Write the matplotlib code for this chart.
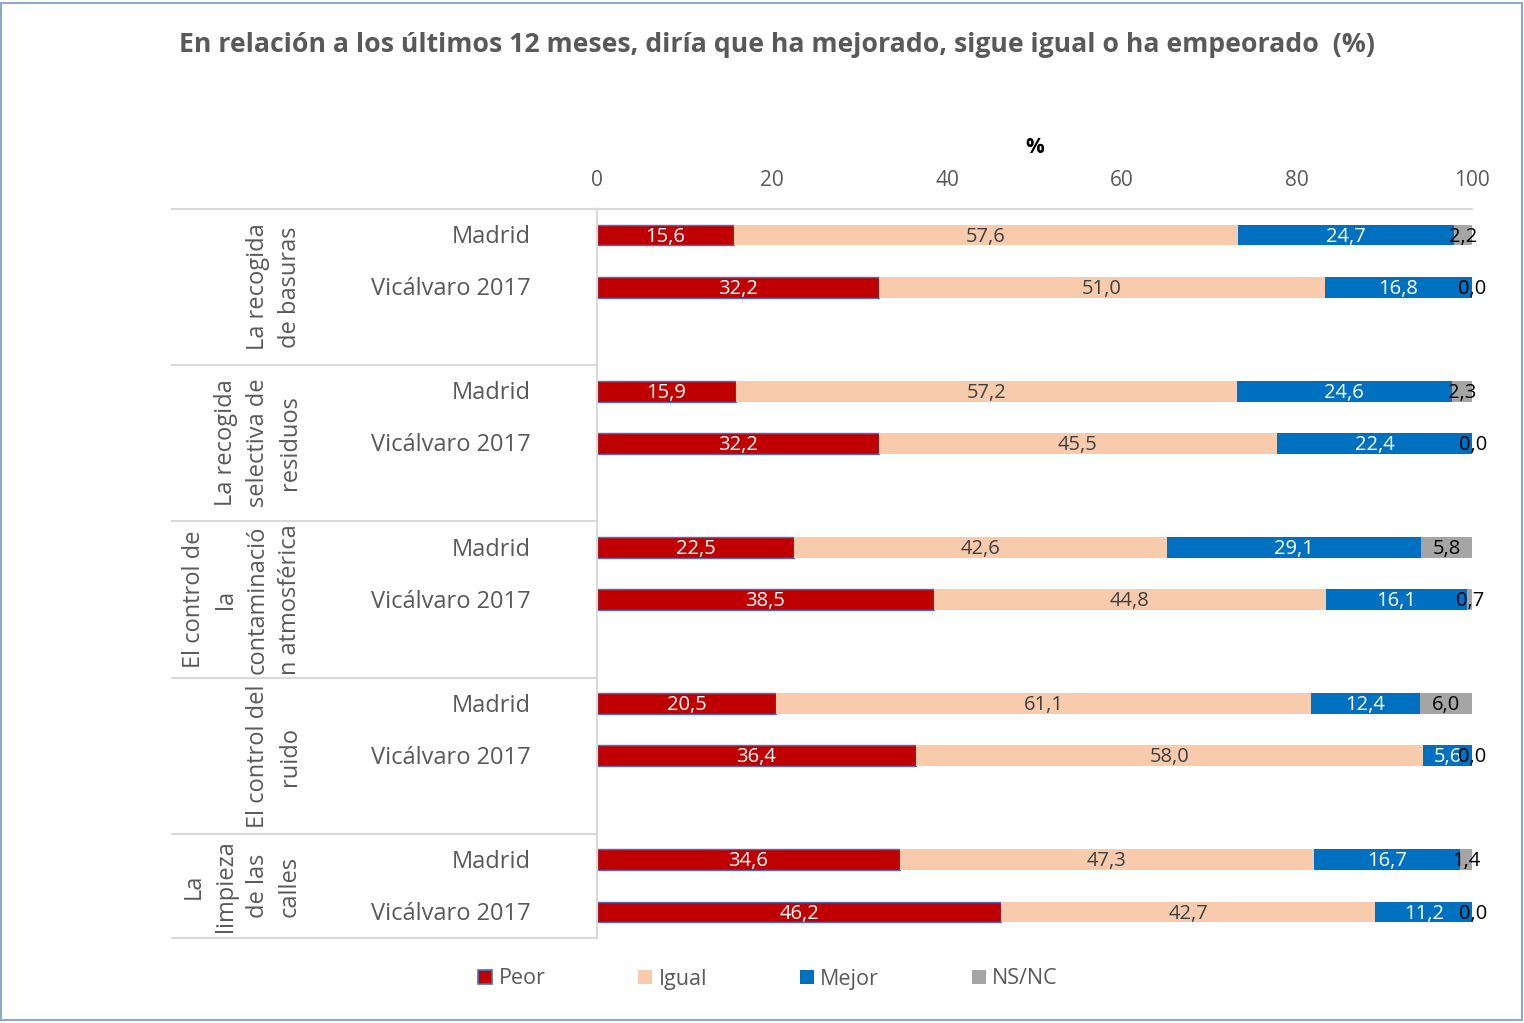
import matplotlib
matplotlib.use("Agg")
import matplotlib.pyplot as plt
from matplotlib.patches import Rectangle, Patch
from matplotlib.lines import Line2D

plt.rcParams['font.family'] = ['Open Sans', 'DejaVu Sans']

groups = ["La recogida\nde basuras",
          "La recogida\nselectiva de\nresiduos",
          "El control de\nla\ncontaminació\nn atmosférica",
          "El control del\nruido",
          "La\nlimpieza\nde las\ncalles"]
rows = ["Madrid", "Vicálvaro 2017"]
series = ["Peor", "Igual", "Mejor", "NS/NC"]

peor  = [15.6, 32.2, 15.9, 32.2, 22.5, 38.5, 20.5, 36.4, 34.6, 46.2]
igual = [57.6, 51.0, 57.2, 45.5, 42.6, 44.8, 61.1, 58.0, 47.3, 42.7]
mejor = [24.7, 16.8, 24.6, 22.4, 29.1, 16.1, 12.4, 5.6, 16.7, 11.2]
nsnc  = [2.2, 0.0, 2.3, 0.0, 5.8, 0.7, 6.0, 0.0, 1.4, 0.0]
xticks = [0, 20, 40, 60, 80, 100]

colors = ["#C00000", "#F8CBAD", "#0070C0", "#A5A5A5"]
label_colors = ["white", "#404040", "white", "black"]
grey = "#595959"
linec = "#D9D9D9"

W, H = 1524, 1023
fig = plt.figure(figsize=(W/100, H/100), dpi=100)

def fx(px): return px / W
def fy(py): return 1 - py / H

ax = fig.add_axes([fx(597), fy(938), fx(1472) - fx(597), fy(209) - fy(938)])

ypos = []
for g in range(len(groups)):
    ypos += [3*g, 3*g + 1]

vals = [peor, igual, mejor, nsnc]
left = [0.0]*len(ypos)
for s, v in enumerate(vals):
    ec = "#4472C4" if s == 0 else "none"
    ax.barh(ypos, v, left=left, height=0.4, color=colors[s], edgecolor=ec,
            linewidth=1.0 if s == 0 else 0)
    for i, (y, val) in enumerate(zip(ypos, v)):
        ax.text(left[i] + val/2, y + 0.03, f"{val:.1f}".replace(".", ","),
                ha="center", va="center", fontsize=14.5, color=label_colors[s],
                clip_on=False)
    left = [l + val for l, val in zip(left, v)]

ax.set_xlim(0, 100)
ax.set_ylim(13.5, -0.5)
ax.set_yticks([])
ax.xaxis.tick_top()
ax.set_xticks(xticks)
ax.set_xticklabels([str(t) for t in xticks])
ax.tick_params(axis="x", length=0, pad=13, labelsize=15, labelcolor=grey)
ax.xaxis.set_label_position("top")
ax.set_xlabel("%", fontsize=15, fontweight="bold", labelpad=12)
for sp in ["right", "bottom"]:
    ax.spines[sp].set_visible(False)
for sp in ["left", "top"]:
    ax.spines[sp].set_color(linec)
    ax.spines[sp].set_linewidth(1.5)

# group separators on the left
bounds = [209, 365, 521, 678, 834, 938]
for b in bounds:
    fig.add_artist(Line2D([fx(172), fx(597)], [fy(b), fy(b)], color=linec, lw=1.5))

# row labels and group labels
for i, y in enumerate(ypos):
    ax.text(-0.076, y + 0.04, rows[i % 2], transform=ax.get_yaxis_transform(),
            ha="right", va="center", fontsize=17, color=grey)

for g, name in enumerate(groups):
    yc = (bounds[g] + bounds[g+1]) / 2
    fig.text(fx(302), fy(yc), name, rotation=90, ha="right", va="center",
             multialignment="center", fontsize=17, color=grey, linespacing=1.45)

fig.text(fx(777), fy(45), "En relación a los últimos 12 meses, diría que ha mejorado, sigue igual o ha empeorado  (%)",
         ha="center", va="center", fontsize=19.2, fontweight="bold", color=grey)

handles = [Patch(facecolor=colors[0], edgecolor="#4472C4", linewidth=1.2),
           Patch(facecolor=colors[1], edgecolor="none"),
           Patch(facecolor=colors[2], edgecolor="none"),
           Patch(facecolor=colors[3], edgecolor="none")]
fig.legend(handles, series, loc="center", bbox_to_anchor=(fx(768), fy(979)), ncol=4,
           frameon=False, fontsize=15.5, labelcolor=grey, handlelength=0.65,
           handleheight=0.65, handletextpad=0.3, columnspacing=4.3)

fig.add_artist(Rectangle((fx(1), fy(1020)), fx(1521), fy(3) - fy(1020), fill=False,
                         edgecolor="#8EA9C8", lw=1.5))

fig.savefig("out.png", dpi=100)
